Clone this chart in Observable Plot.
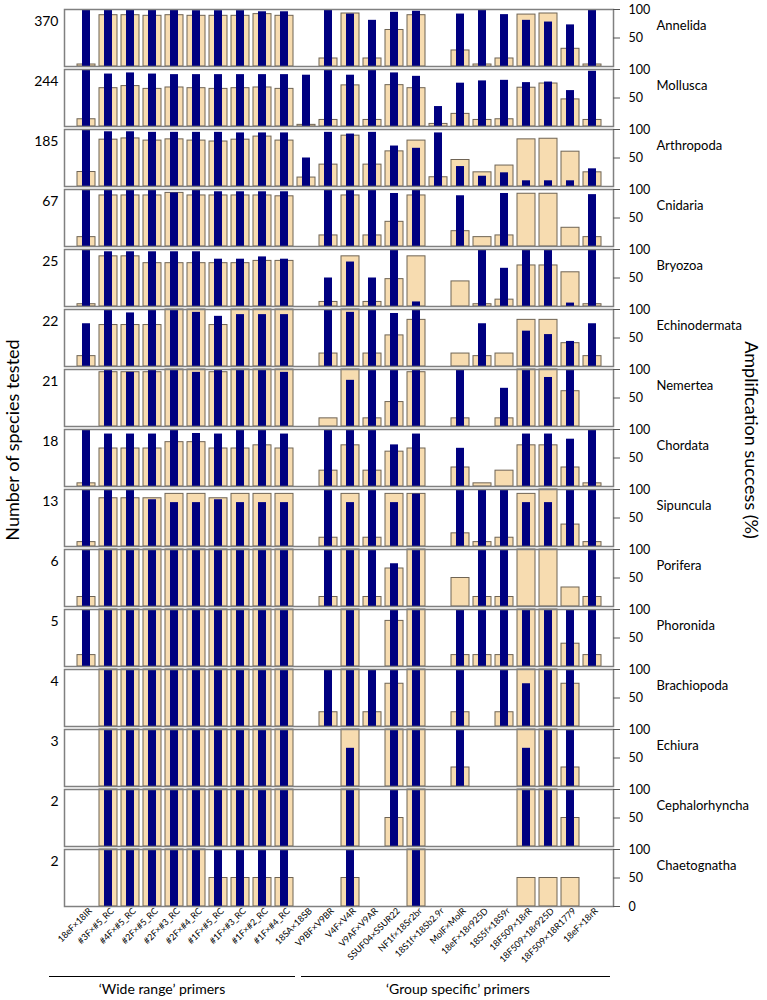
<!DOCTYPE html>
<html>
<head>
<meta charset="utf-8">
<script src="https://cdn.jsdelivr.net/npm/d3@7"></script>
<script src="https://cdn.jsdelivr.net/npm/@observablehq/plot@0.6"></script>
<style>
  body { margin: 0; background: #fff; font-family: Lato, "Open Sans", sans-serif; }
  #wrap { position: relative; width: 767px; height: 1000px; overflow: hidden; }
  #chart { position: absolute; left: 0; top: 0; }
  .ytitle { position: absolute; font-size: 18px; color: #000; white-space: nowrap; }
  .gline { position: absolute; height: 0; border-top: 1px solid #000; }
  .gtext { position: absolute; font-size: 14px; color: #000; white-space: nowrap; transform: translateX(-50%); }
</style>
</head>
<body>
<div id="wrap">
  <div id="chart"></div>
  <div class="ytitle" id="ltitle" style="left:12px;top:440px;transform:translate(-50%,-50%) rotate(-90deg);">Number of species tested</div>
  <div class="ytitle" id="rtitle" style="left:752px;top:440px;transform:translate(-50%,-50%) rotate(90deg);">Amplification success (%)</div>
  <div class="gline" style="left:49px;width:246px;top:976px;"></div>
  <div class="gline" style="left:301px;width:309px;top:976px;"></div>
  <div class="gtext" style="left:162px;top:980px;">‘Wide range’ primers</div>
  <div class="gtext" style="left:458px;top:980px;">‘Group specific’ primers</div>
</div>
<script>
const primers = ["18eF×18IR","#3F×#5_RC","#4F×#5_RC","#2F×#5_RC","#2F×#3_RC","#2F×#4_RC","#1F×#5_RC","#1F×#3_RC","#1F×#2_RC","#1F×#4_RC","18SA×18SB","V9BF×V9BR","V4F×V4R","V9AF×V9AR","SSUF04×SSUR22","NF1f×18Sr2br","18S1f×18Sb2.9r","MolF×MolR","18eF×18r925D","18S5f×18S9r","18F509×18rR","18F509×18r925D","18F509×18R1779","18eF×18rR"];
const phyla = ["Annelida","Mollusca","Arthropoda","Cnidaria","Bryozoa","Echinodermata","Nemertea","Chordata","Sipuncula","Porifera","Phoronida","Brachiopoda","Echiura","Cephalorhyncha","Chaetognatha"];
const maxSpecies = [370,244,185,67,25,22,21,18,13,6,5,4,3,2,2];
const rightTickValues = [100, 50];
const bottomTickValue = 0;

// species tested (tan) and amplification success % (navy), one entry per primer pair
const annelidaTested = [13,333,333,329,333,329,329,329,340,329,null,52,344,52,237,333,null,104,13,52,337,344,115,13];
const annelidaSuccess = [100,100,100,100,100,98,98,98,96,96,null,100,92,81,95,97,null,92,100,91,81,78,73,100];
const molluscaTested = [31,164,173,161,167,164,161,164,167,161,7,28,176,28,177,164,11,54,28,31,166,184,116,28];
const molluscaSuccess = [100,92,94,92,91,91,91,91,91,91,90,100,90,100,94,88,35,76,80,81,77,78,63,97];
const arthropodaTested = [47,152,156,149,153,149,146,152,162,149,29,71,165,71,114,149,30,86,46,68,153,155,113,46];
const arthropodaSuccess = [100,96,96,95,95,95,95,94,94,94,50,95,92,95,71,67,94,35,18,24,10,10,10,31];
const cnidariaTested = [11,60,60,60,63,60,60,60,60,59,null,13,60,13,29,60,null,18,11,13,62,62,22,11];
const cnidariaSuccess = [100,100,100,100,94,100,96,96,96,96,null,100,100,100,93,100,null,89,0,93,0,0,0,91];
const bryozoaTested = [1,22,22,19,19,19,19,19,20,20,null,2,22,2,12,22,null,11,1,3,18,18,15,1];
const bryozoaSuccess = [100,96,96,96,96,96,83,83,87,83,null,50,78,50,100,8,null,0,100,67,100,100,6,100];
const echinodermataTested = [4,16,16,16,22,22,16,22,22,22,null,5,22,5,12,18,null,5,4,5,18,18,9,4];
const echinodermataSuccess = [75,100,94,100,100,95,88,91,91,91,null,100,95,100,93,100,null,0,75,0,62,56,44,75];
const nemerteaTested = [null,20,20,20,21,21,20,21,21,21,null,3,21,3,9,20,null,3,null,3,21,21,13,null];
const nemerteaSuccess = [null,100,95,100,100,95,100,100,100,95,null,0,81,100,100,100,null,100,null,67,100,86,100,null];
const chordataTested = [1,12,12,12,14,14,12,12,13,12,null,5,13,5,11,12,null,6,1,5,13,13,6,1];
const chordataSuccess = [100,92,92,92,100,93,92,100,100,92,null,100,100,100,73,92,null,67,0,0,92,92,83,100];
const sipunculaTested = [1,11,11,11,12,12,11,12,12,12,null,2,12,2,12,12,null,3,1,2,12,13,5,1];
const sipunculaSuccess = [100,100,100,82,77,77,82,77,77,77,null,100,77,100,77,92,null,100,100,100,77,77,100,100];
const poriferaTested = [1,6,6,6,6,6,6,6,6,6,null,1,6,1,4,6,null,3,1,1,6,6,2,1];
const poriferaSuccess = [100,100,100,100,100,100,100,100,100,100,null,100,100,100,75,100,null,0,100,100,0,0,0,100];
const phoronidaTested = [1,5,5,5,5,5,5,5,5,5,null,null,5,null,4,5,null,1,1,1,5,5,2,1];
const phoronidaSuccess = [100,100,100,100,100,100,100,100,100,100,null,null,100,null,100,100,null,100,100,100,100,100,100,100];
const brachiopodaTested = [null,4,4,4,4,4,4,4,4,4,null,1,4,1,3,4,null,1,null,1,4,4,3,null];
const brachiopodaSuccess = [null,100,100,100,100,100,100,100,100,100,null,100,100,100,100,100,null,100,null,100,75,100,100,null];
const echiuraTested = [null,3,3,3,3,3,3,3,3,3,null,null,3,null,3,3,null,1,null,null,3,3,1,null];
const echiuraSuccess = [null,100,100,100,100,100,100,100,100,100,null,null,67,null,100,100,null,100,null,null,67,100,100,null];
const cephalorhynchaTested = [null,2,2,2,2,2,2,2,2,2,null,null,2,null,1,2,null,null,null,null,2,2,1,null];
const cephalorhynchaSuccess = [null,100,100,100,100,100,100,100,100,100,null,null,100,null,100,100,null,null,null,null,100,100,100,null];
const chaetognathaTested = [null,2,2,2,2,2,1,1,1,1,null,null,1,null,null,2,null,null,null,null,1,1,1,null];
const chaetognathaSuccess = [null,100,100,100,100,100,100,100,100,100,null,null,100,null,null,100,null,null,null,null,0,0,0,null];

const testedByPhylum = [annelidaTested, molluscaTested, arthropodaTested, cnidariaTested, bryozoaTested, echinodermataTested, nemerteaTested, chordataTested, sipunculaTested, poriferaTested, phoronidaTested, brachiopodaTested, echiuraTested, cephalorhynchaTested, chaetognathaTested];
const successByPhylum = [annelidaSuccess, molluscaSuccess, arthropodaSuccess, cnidariaSuccess, bryozoaSuccess, echinodermataSuccess, nemerteaSuccess, chordataSuccess, sipunculaSuccess, poriferaSuccess, phoronidaSuccess, brachiopodaSuccess, echiuraSuccess, cephalorhynchaSuccess, chaetognathaSuccess];

const rows = [];
phyla.forEach((p, k) => primers.forEach((pr, i) => {
  const n = testedByPhylum[k][i];
  if (n == null) return;
  rows.push({phylum: p, primer: pr, tested: n, testedPct: n / maxSpecies[k] * 100, success: successByPhylum[k][i]});
}));
const phylumLabels = phyla.map((p, k) => ({phylum: p, max: maxSpecies[k]}));
const rightTicks = [];
phyla.forEach(p => rightTickValues.forEach(v => rightTicks.push({phylum: p, v})));
rightTicks.push({phylum: phyla[phyla.length - 1], v: bottomTickValue});

const W = 767, ML = 64, MR = 154;
const chart = Plot.plot({
  width: W, height: 975,
  marginLeft: ML, marginRight: MR, marginTop: 7, marginBottom: 68,
  style: {fontFamily: "Lato, 'Open Sans', sans-serif", background: "white", color: "#000"},
  x: {domain: primers, paddingInner: 0.2, paddingOuter: 0.19},
  y: {domain: [0, 100], axis: null},
  fy: {domain: phyla, paddingInner: 0.05, paddingOuter: 0, axis: null},
  marks: [
    Plot.barY(rows, {x: "primer", y: "testedPct", fy: "phylum", fill: "#f7dcb0", stroke: "#6f6454", strokeWidth: 1}),
    Plot.barY(rows.filter(d => d.success > 0), {x: "primer", y: "success", fy: "phylum", fill: "#000080", insetLeft: 5, insetRight: 5}),
    Plot.frame({stroke: "#808080", strokeWidth: 1.5}),
    Plot.ruleY(rightTicks, {y: "v", fy: "phylum", stroke: "#555", strokeWidth: 1, insetLeft: W - ML - MR, insetRight: -7}),
    Plot.text(rightTicks, {y: "v", fy: "phylum", text: d => String(d.v), frameAnchor: "right", dx: 15, textAnchor: "start", fontSize: 12.5, fill: "#000"}),
    Plot.text(phylumLabels, {fy: "phylum", text: "phylum", frameAnchor: "top-right", dx: 43, dy: 11, textAnchor: "start", fontSize: 13, fill: "#000"}),
    Plot.text(phylumLabels, {fy: "phylum", text: d => String(d.max), frameAnchor: "top-left", dx: -6, dy: 7, textAnchor: "end", fontSize: 14, fill: "#000"}),
    Plot.axisX({anchor: "bottom", tickRotate: -45, tickSize: 0, tickPadding: 3, dx: 4, fontSize: 9, fill: "#000", label: null})
  ]
});
document.getElementById("chart").appendChild(chart);
</script>
</body>
</html>
